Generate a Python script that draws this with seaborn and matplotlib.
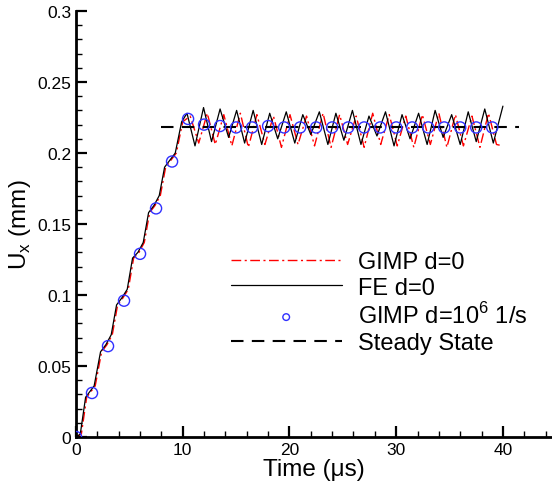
import pandas as pd
import matplotlib
matplotlib.use("Agg")
import matplotlib.pyplot as plt
from matplotlib.ticker import MultipleLocator, FormatStrFormatter
import seaborn as sns

# FE d=0 (black solid)
fe_t = [0, 0.4, 0.9, 1.3, 1.7, 2.3, 2.8, 3.3, 3.8, 4.3, 4.8, 5.3, 5.8, 6.3, 6.8, 7.3, 7.8,
        8.3, 8.8, 9.3, 9.9, 10.4, 11.15, 11.95, 12.7, 13.5, 14.3, 15.05, 15.8, 16.6, 17.4,
        18.15, 18.9, 19.7, 20.5, 21.25, 22.0, 22.8, 23.6, 24.35, 25.1, 25.9, 26.7, 27.45,
        28.2, 29.0, 29.8, 30.55, 31.3, 32.1, 32.9, 33.65, 34.4, 35.2, 36.0, 36.75, 37.5,
        38.3, 39.1, 40.0]
fe_u = [0, 0.002, 0.028, 0.032, 0.036, 0.060, 0.065, 0.072, 0.093, 0.098, 0.104, 0.126,
        0.130, 0.137, 0.158, 0.163, 0.170, 0.190, 0.195, 0.200, 0.222, 0.228, 0.205, 0.232,
        0.208, 0.231, 0.211, 0.230, 0.207, 0.230, 0.206, 0.228, 0.210, 0.229, 0.207, 0.227,
        0.213, 0.229, 0.206, 0.228, 0.209, 0.230, 0.206, 0.226, 0.212, 0.229, 0.205, 0.227,
        0.210, 0.228, 0.206, 0.230, 0.211, 0.227, 0.206, 0.229, 0.208, 0.231, 0.207, 0.233]

# GIMP d=0 (red dash-dot)
gimp_t = [0, 0.5, 1.0, 1.4, 1.8, 2.4, 2.9, 3.4, 3.9, 4.4, 4.9, 5.4, 5.9, 6.4, 6.9, 7.4, 7.9,
          8.4, 8.9, 9.4, 10.0, 10.7, 11.5, 12.3, 13.05, 13.85, 14.6, 15.4, 16.15, 16.95, 17.7,
          18.5, 19.25, 20.05, 20.8, 21.6, 22.35, 23.15, 23.9, 24.7, 25.45, 26.25, 27.0, 27.8,
          28.55, 29.35, 30.1, 30.9, 31.65, 32.45, 33.2, 34.0, 34.75, 35.55, 36.3, 37.1, 37.85,
          38.65, 39.4, 40.0]
gimp_u = [0, 0.002, 0.028, 0.032, 0.036, 0.060, 0.065, 0.072, 0.093, 0.098, 0.104, 0.126,
          0.130, 0.137, 0.158, 0.163, 0.170, 0.190, 0.195, 0.200, 0.222, 0.226, 0.207, 0.228,
          0.206, 0.227, 0.205, 0.228, 0.204, 0.227, 0.206, 0.226, 0.204, 0.227, 0.206, 0.226,
          0.205, 0.228, 0.204, 0.227, 0.206, 0.226, 0.204, 0.228, 0.206, 0.227, 0.205, 0.226,
          0.204, 0.227, 0.206, 0.228, 0.204, 0.227, 0.205, 0.226, 0.204, 0.228, 0.206, 0.205]

# GIMP d=10^6 1/s (blue circles)
circ_t = [0, 1.5, 3, 4.5, 6, 7.5, 9, 10.5, 12, 13.5, 15, 16.5, 18, 19.5, 21, 22.5, 24,
          25.5, 27, 28.5, 30, 31.5, 33, 34.5, 36, 37.5, 39]
circ_u = [0, 0.031, 0.064, 0.096, 0.129, 0.161, 0.194, 0.224, 0.220, 0.219, 0.218, 0.218,
          0.219, 0.218, 0.218, 0.218, 0.218, 0.218, 0.218, 0.218, 0.218, 0.218, 0.218,
          0.218, 0.218, 0.218, 0.218]

# steady state
ss_t = [8, 41.5]
ss_u = [0.218, 0.218]

sns.set_style("ticks")
plt.rcParams['font.family'] = ['Liberation Sans', 'DejaVu Sans']
plt.rcParams['mathtext.fontset'] = 'custom'
plt.rcParams['mathtext.rm'] = 'Liberation Sans'
for k in ['text.color', 'axes.labelcolor', 'xtick.color', 'ytick.color']:
    plt.rcParams[k] = 'black'

fig = plt.figure(figsize=(5.52, 4.89), dpi=100)
ax = fig.add_axes([76 / 552, 51 / 489, 1 - 76 / 552, 426 / 489])

sns.lineplot(x=gimp_t, y=gimp_u, ax=ax, color='red', lw=1.0, label='GIMP d=0', sort=False)
ax.lines[-1].set_dashes([7, 2.5, 1.5, 2.5])
sns.lineplot(x=fe_t, y=fe_u, ax=ax, color='black', lw=0.9, label='FE d=0', sort=False)
sns.scatterplot(x=circ_t, y=circ_u, ax=ax, marker='o', s=64, facecolor='none',
                edgecolor='#3030ff', linewidth=1.0, label=r'GIMP d=10$^6$ 1/s', zorder=5)
sns.lineplot(x=ss_t, y=ss_u, ax=ax, color='black', lw=1.5, label='Steady State', sort=False)
ax.lines[-1].set_dashes([6, 4])

ax.set_xlim(0, 44.6)
ax.set_ylim(0, 0.3)
ax.xaxis.set_major_locator(MultipleLocator(10))
ax.xaxis.set_minor_locator(MultipleLocator(2))
ax.yaxis.set_major_locator(MultipleLocator(0.05))
ax.yaxis.set_minor_locator(MultipleLocator(0.01))
ax.yaxis.set_major_formatter(FormatStrFormatter('%g'))
ax.tick_params(which='major', direction='in', length=8, width=1.6, labelsize=12.5)
ax.tick_params(which='minor', direction='in', length=4, width=1.0)

for s in ['top', 'right']:
    ax.spines[s].set_visible(False)
for s in ['left', 'bottom']:
    ax.spines[s].set_linewidth(2)
    ax.spines[s].set_color('black')

ax.set_xlabel('Time (\u03bcs)', fontsize=17.5, labelpad=1)
ax.set_ylabel(r'U$_\mathregular{x}$ (mm)', fontsize=17.5, labelpad=3)

leg = ax.legend(loc='upper left', bbox_to_anchor=(0.325, 0.437), frameon=False, fontsize=17,
                handlelength=4.7, handletextpad=0.7, labelspacing=0.16, markerscale=0.6,
                borderpad=0, borderaxespad=0)

fig.savefig('out.png', dpi=100)
